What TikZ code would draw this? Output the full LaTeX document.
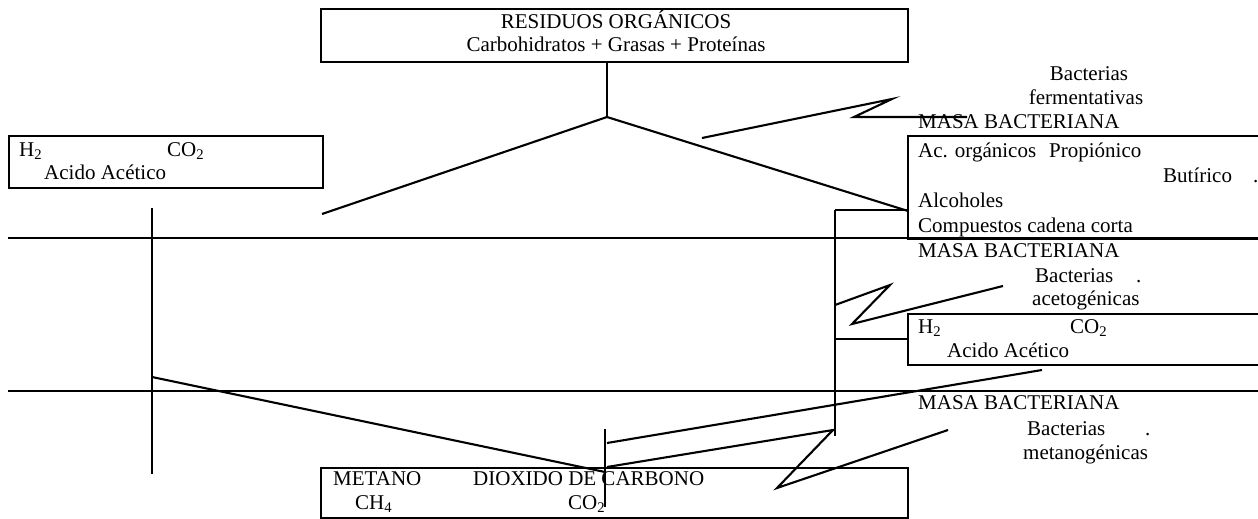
\documentclass[tikz,border=0pt]{standalone}
\usepackage{fontspec}
\setmainfont{Liberation Serif}
\begin{document}
\begin{tikzpicture}[x=1pt,y=-1pt,
  ln/.style={line width=2.1pt},
  box/.style={draw, line width=2.1pt, inner sep=0pt, anchor=north west},
  txt/.style={inner sep=0pt, anchor=west, text height=14pt, text depth=4pt, font=\fontsize{21}{24}\selectfont},
  ctxt/.style={txt, anchor=center}]
\useasboundingbox (0,0) rectangle (1258,519);
\fill[white] (0,0) rectangle (1258,519);

% boxes
\node[box, minimum width=587pt, minimum height=53pt] (top) at (320,8) {};
\node[box, minimum width=314pt, minimum height=52pt] (lbox) at (8,135) {};
\node[box, minimum width=370pt, minimum height=103pt] (rbox1) at (907,135) {};
\node[box, minimum width=370pt, minimum height=51pt] (rbox2) at (907,313) {};
\node[box, minimum width=587pt, minimum height=50pt] (bbox) at (320,467) {};

% texts
\node[ctxt] (t1) at (616,24) {RESIDUOS ORGÁNICOS};
\node[ctxt] (t2) at (616,47) {Carbohidratos + Grasas + Proteínas};

\node[txt] (lh2) at (19,151) {H\textsubscript{2}};
\node[txt] (lco2) at (167,151) {CO\textsubscript{2}};
\node[txt] (lac) at (44,174) {Acido Acético};

\node[ctxt] (bac1) at (1089,76) {Bacterias};
\node[ctxt] (fer) at (1086,99) {fermentativas};
\node[txt] (masa1) at (918,123) {MASA BACTERIANA};
\node[txt] (acorg) at (918,152) {Ac. orgánicos\hspace{13pt}Propiónico};
\node[txt] (but) at (1163,177) {Butírico};
\node[txt] (dot1) at (1253,177) {.};
\node[txt] (alc) at (918,202) {Alcoholes};
\node[txt] (comp) at (918,227) {Compuestos cadena corta};

\node[txt] (masa2) at (918,252) {MASA BACTERIANA};
\node[txt] (bac2) at (1035,277) {Bacterias};
\node[txt] (dot2) at (1136,277) {.};
\node[txt] (acet) at (1032,300) {acetogénicas};

\node[txt] (rh2) at (918,328) {H\textsubscript{2}};
\node[txt] (rco2) at (1070,328) {CO\textsubscript{2}};
\node[txt] (rac) at (947,352) {Acido Acético};

\node[txt] (masa3) at (918,404) {MASA BACTERIANA};
\node[txt] (bac3) at (1027,430) {Bacterias};
\node[txt] (dot3) at (1145,430) {.};
\node[txt] (meta) at (1023,454) {metanogénicas};

\node[txt] (metano) at (333,480) {METANO};
\node[txt] (diox) at (473,480) {DIOXIDO DE CARBONO};
\node[txt] (ch4) at (355,504) {CH\textsubscript{4}};
\node[txt] (bco2) at (568,504) {CO\textsubscript{2}};

% coordinates
\coordinate (apex) at (607,117);
\coordinate (lend) at (322,214);
\coordinate (rend) at (908,211);
\coordinate (f1) at (702,138);
\coordinate (f2) at (892,99);
\coordinate (f3) at (854,117);
\coordinate (f4) at (967,117);
\coordinate (lv1) at (152,208);
\coordinate (lv2) at (152,474);
\coordinate (h1a) at (8,238);
\coordinate (h1b) at (1258,238);
\coordinate (h2a) at (8,391);
\coordinate (h2b) at (1258,391);
\coordinate (rv1) at (835,210);
\coordinate (rv2) at (835,436);
\coordinate (a1) at (835,305);
\coordinate (a2) at (890,285);
\coordinate (a3) at (852,324);
\coordinate (a4) at (1003,286);
\coordinate (s2) at (835,339);
\coordinate (m1) at (152,377);
\coordinate (m2) at (605,472);
\coordinate (cv1) at (605,429);
\coordinate (cv2) at (605,507);
\coordinate (g1) at (607,443);
\coordinate (g2) at (1042,370);
\coordinate (k1) at (607,467);
\coordinate (k2) at (833,430);
\coordinate (k3) at (777,488);
\coordinate (k4) at (948,430);

% connectors
\draw[ln] (top.south -| apex) -- (apex);
\draw[ln] (apex) -- (lend);
\draw[ln] (apex) -- (rend);
\draw[ln] (f1) -- (f2) -- (f3) -- (f4);
\draw[ln] (h1a) -- (h1b);
\draw[ln] (h2a) -- (h2b);
\draw[ln] (lv1) -- (lv2);
\draw[ln] (rv1) -- (rv1 -| rbox1.west);
\draw[ln] (rv1) -- (rv2);
\draw[ln] (a1) -- (a2) -- (a3) -- (a4);
\draw[ln] (s2) -- (s2 -| rbox2.west);
\draw[ln] (m1) -- (m2);
\draw[ln] (cv1) -- (cv2);
\draw[ln] (g1) -- (g2);
\draw[ln] (k1) -- (k2) -- (k3) -- (k4);
\end{tikzpicture}
\end{document}
